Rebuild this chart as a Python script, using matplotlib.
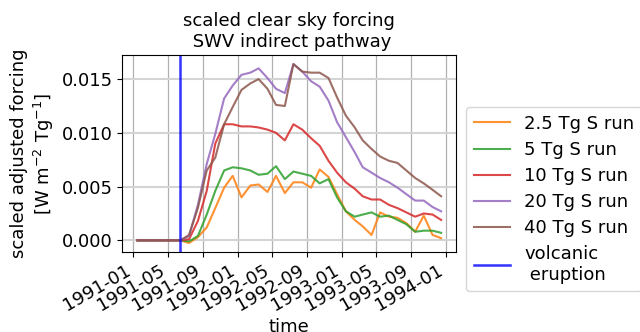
import matplotlib
matplotlib.use('Agg')
import matplotlib.pyplot as plt
import matplotlib.dates as mdates
import numpy as np
import pandas as pd

# monthly mean, scaled clear sky forcing (W m-2 Tg-1), Jan 1991 - Dec 1993
time = pd.date_range('1991-01-01', periods=36, freq='MS') + pd.Timedelta(days=14)

run_labels = ['2.5 Tg S run', '5 Tg S run', '10 Tg S run', '20 Tg S run', '40 Tg S run']
run_colors = ['tab:orange', 'tab:green', 'tab:red', 'tab:purple', 'tab:brown']

forcing_2p5 = [0, 0, 0, 0, 0, 0, -0.00025, 0.0003, 0.0012, 0.0030, 0.0049, 0.0060,
               0.0040, 0.0051, 0.0052, 0.0045, 0.0060, 0.0044, 0.0054, 0.0054, 0.0049, 0.0066,
               0.0059, 0.0043, 0.0027, 0.0019, 0.0013, 0.0005, 0.0026, 0.0022, 0.0021, 0.0016,
               0.0008, 0.0023, 0.0005, 0.0002]
forcing_5 = [0, 0, 0, 0, 0, 0, -0.0001, 0.0004, 0.0024, 0.0046, 0.0065, 0.0068,
             0.0067, 0.0065, 0.0061, 0.0062, 0.0069, 0.0057, 0.0064, 0.0062, 0.0060, 0.0053,
             0.0057, 0.0040, 0.0027, 0.0022, 0.0024, 0.0026, 0.0022, 0.0023, 0.0019, 0.0015,
             0.0008, 0.0009, 0.0009, 0.0007]
forcing_10 = [0, 0, 0, 0, 0, 0, 0.0001, 0.0018, 0.0046, 0.0090, 0.0108, 0.0108,
              0.0106, 0.0106, 0.0105, 0.0103, 0.0100, 0.0093, 0.0108, 0.0103, 0.0095, 0.0088,
              0.0074, 0.0063, 0.0054, 0.0048, 0.0041, 0.0038, 0.0038, 0.0033, 0.0030, 0.0026,
              0.0022, 0.0025, 0.0024, 0.0019]
forcing_20 = [0, 0, 0, 0, 0, 0, 0.0004, 0.0033, 0.0071, 0.0099, 0.0132, 0.0144,
              0.0154, 0.0156, 0.0160, 0.0151, 0.0141, 0.0137, 0.0164, 0.0157, 0.0148, 0.0143,
              0.0130, 0.0110, 0.0096, 0.0082, 0.0068, 0.0063, 0.0058, 0.0054, 0.0049, 0.0043,
              0.0037, 0.0037, 0.0031, 0.0027]
forcing_40 = [0, 0, 0, 0, 0, 0, 0.0005, 0.0030, 0.0065, 0.0077, 0.0108, 0.0124,
              0.0140, 0.0146, 0.0150, 0.0141, 0.0126, 0.0125, 0.0164, 0.0157, 0.0156, 0.0156,
              0.0151, 0.0133, 0.0116, 0.0105, 0.0093, 0.0085, 0.0078, 0.0074, 0.0072, 0.0065,
              0.0058, 0.0053, 0.0047, 0.0041]

eruption_date = pd.Timestamp('1991-06-12')

plt.rcParams['font.family'] = 'DejaVu Sans'
fig = plt.figure(figsize=(6.4, 3.32), dpi=100)
ax = fig.add_axes([0.191, 0.241, 0.522, 0.593])

for series, label, color in zip([forcing_2p5, forcing_5, forcing_10, forcing_20, forcing_40],
                                run_labels, run_colors):
    ax.plot(time, series, color=color, lw=1.5, alpha=0.85, label=label)
ax.axvline(eruption_date, color='blue', lw=1.8, alpha=0.8, label='volcanic\n eruption')

ax.grid(axis='y', color='#d4d4d4', lw=1.5)
ax.grid(axis='x', color='#b0b0b0', lw=0.9)
ax.set_axisbelow(True)

ax.xaxis.set_major_locator(mdates.MonthLocator(bymonth=[1, 5, 9]))
ax.xaxis.set_major_formatter(mdates.DateFormatter('%Y-%m'))
ax.set_yticks([0, 0.005, 0.010, 0.015])
ax.tick_params(labelsize=13)
for lbl in ax.get_xticklabels():
    lbl.set_rotation(30)
    lbl.set_ha('right')

ax.set_xlabel('time', fontsize=13, labelpad=2)
ax.set_ylabel('scaled adjusted forcing\n[W m$^{-2}$ Tg$^{-1}$]', fontsize=13)
ax.set_title('scaled clear sky forcing\n SWV indirect pathway', fontsize=13)

ax.legend(loc='lower left', bbox_to_anchor=(1.03, -0.2), borderaxespad=0, fontsize=13,
          labelspacing=0.45)

fig.savefig('out.png', dpi=100)
